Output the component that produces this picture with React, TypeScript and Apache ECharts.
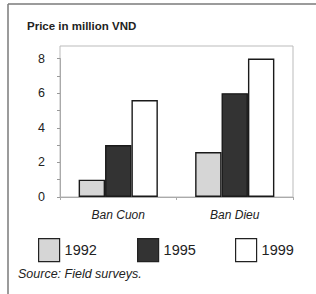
import React, { useEffect, useRef } from "react";
import * as echarts from "echarts";

const categories = ["Ban Cuon", "Ban Dieu"];
const years = ["1992", "1995", "1999"];
const values1992 = [1, 2.6];
const values1995 = [3, 6];
const values1999 = [5.6, 8];
const yTicks = [0, 2, 4, 6, 8];
const fills = ["#d6d6d6", "#333333", "#ffffff"];

export default function App() {
  const ref = useRef<HTMLDivElement>(null);
  useEffect(() => {
    if (!ref.current) return;
    const chart = echarts.init(ref.current, null, { renderer: "svg" });
    const font = "'Liberation Sans', Arial, sans-serif";
    const seriesData = [values1992, values1995, values1999];
    const legendLefts = [38, 137, 235];
    chart.setOption({
      animation: false,
      backgroundColor: "#ffffff",
      textStyle: { fontFamily: font },
      grid: { left: 60, right: 23, top: 58.5, bottom: 97, containLabel: false },
      xAxis: {
        type: "category",
        data: categories,
        axisLine: { show: true, lineStyle: { color: "#aaaaaa", width: 1 } },
        axisTick: { show: true, length: 3, lineStyle: { color: "#aaaaaa" } },
        axisLabel: {
          margin: 12,
          fontSize: 12,
          fontStyle: "italic",
          color: "#222",
          fontFamily: font,
        },
      },
      yAxis: {
        type: "value",
        min: 0,
        max: 8,
        interval: 1,
        axisLine: { show: true, lineStyle: { color: "#aaaaaa", width: 1 } },
        axisTick: { show: true, length: 3, lineStyle: { color: "#999999" } },
        splitLine: { show: false },
        axisLabel: {
          margin: 15,
          fontSize: 12.5,
          color: "#222",
          fontFamily: font,
          formatter: (v: number) => (yTicks.includes(v) ? String(v) : ""),
        },
      },
      legend: years.map((y, i) => ({
        data: [y],
        left: legendLefts[i],
        top: 238,
        padding: 0,
        itemWidth: 21,
        itemHeight: 23,
        icon: "rect",
        itemGap: 5,
        textStyle: { fontSize: 14.5, color: "#222", fontFamily: font, padding: [0, 0, 0, 0] },
        itemStyle: { borderColor: "#222", borderWidth: 1.2 },
        selectedMode: false,
      })),
      series: years.map((y, i) => ({
        name: y,
        type: "bar",
        data: seriesData[i],
        barGap: "0%",
        barCategoryGap: "32%",
        itemStyle: { color: fills[i], borderColor: "#1a1a1a", borderWidth: 1.4 },
      })),
      graphic: [
        {
          type: "line",
          shape: { x1: 8, y1: 4, x2: 316, y2: 4 },
          style: { stroke: "#7a7a7a", lineWidth: 1.5 },
        },
        {
          type: "line",
          shape: { x1: 8, y1: 4, x2: 8, y2: 294 },
          style: { stroke: "#7a7a7a", lineWidth: 1.5 },
        },
        {
          type: "rect",
          shape: { x: 60, y: 46, width: 233, height: 151 },
          style: { fill: "none", stroke: "#bbbbbb", lineWidth: 1 },
          z: -1,
        },
        {
          type: "text",
          left: 27,
          top: 20,
          style: {
            text: "Price in million VND",
            fontSize: 11.5,
            fontWeight: "bold",
            fill: "#222",
            fontFamily: font,
          },
        },
        {
          type: "text",
          left: 18,
          top: 267,
          style: {
            text: "Source: Field surveys.",
            fontSize: 12.5,
            fontStyle: "italic",
            fill: "#222",
            fontFamily: font,
          },
        },
      ],
    });
    return () => chart.dispose();
  }, []);
  return (
    <div
      ref={ref}
      style={{ position: "fixed", left: 0, top: 0, width: 316, height: 294 }}
    />
  );
}
